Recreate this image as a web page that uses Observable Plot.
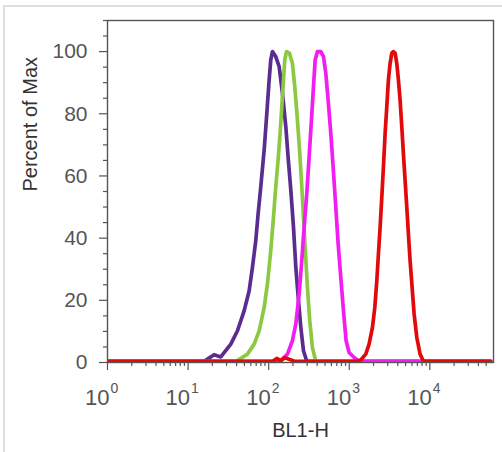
<!DOCTYPE html>
<html>
<head>
<meta charset="utf-8">
<script src="https://cdn.jsdelivr.net/npm/d3@7"></script>
<script src="https://cdn.jsdelivr.net/npm/@observablehq/plot@0.6"></script>
<style>
  html, body { margin: 0; padding: 0; background: #fff; }
  #wrap { position: relative; width: 502px; height: 452px; overflow: hidden; }
  #border { position: absolute; left: 3px; top: 5px; width: 600px; height: 600px;
            border-left: 2px solid #dedede; border-top: 2px solid #dedede; }
  #chart { position: absolute; left: 0; top: 0; }
</style>
</head>
<body>
<div id="wrap"><div id="border"></div><div id="chart"></div></div>
<script>
// Values: x as log10(BL1-H), y as percent of max
const purpleLogX = [0, 1.20, 1.241, 1.323, 1.406, 1.530, 1.613, 1.696, 1.758, 1.799, 1.840, 1.869, 1.902, 1.944, 1.977, 2.006, 2.026, 2.047, 2.088, 2.130, 2.171, 2.213, 2.241, 2.275, 2.308, 2.337, 2.370, 2.399, 2.432, 2.473, 4.755];
const purpleY    = [0.4, 0.4, 1.1, 2.5, 1.8, 5.9, 10.2, 16.7, 23.1, 30.6, 39.2, 47.8, 56.5, 68.3, 80.1, 90.9, 97.3, 100, 98.4, 95.2, 86.6, 75.8, 66.1, 55.4, 43.5, 30.6, 19.9, 11.3, 3.8, 0.4, 0.4];

const greenLogX = [0, 1.58, 1.613, 1.737, 1.820, 1.882, 1.944, 1.985, 2.026, 2.060, 2.088, 2.117, 2.142, 2.163, 2.184, 2.200, 2.221, 2.258, 2.295, 2.324, 2.357, 2.386, 2.411, 2.432, 2.457, 2.481, 2.510, 2.543, 2.585, 4.755];
const greenY    = [0.4, 0.4, 0.6, 2.7, 5.9, 10.2, 17.7, 25.3, 36.0, 46.8, 56.5, 65.1, 73.7, 82.3, 90.9, 97.3, 100, 99.5, 96.2, 88.7, 78.0, 67.2, 56.5, 46.8, 34.9, 24.2, 13.4, 4.8, 0.4, 0.4];

const magentaLogX = [0, 2.12, 2.151, 2.233, 2.295, 2.337, 2.378, 2.411, 2.440, 2.473, 2.502, 2.531, 2.556, 2.577, 2.605, 2.647, 2.680, 2.709, 2.738, 2.771, 2.800, 2.833, 2.862, 2.895, 2.928, 2.961, 2.998, 3.060, 3.122, 4.755];
const magentaY    = [0.4, 0.4, 0.6, 2.7, 7.0, 12.4, 22.0, 32.8, 43.5, 54.3, 66.1, 78.0, 88.7, 97.3, 100, 100, 98.4, 93.0, 84.4, 73.7, 62.9, 50.0, 38.2, 27.4, 16.7, 7.0, 3.2, 1.6, 0.4, 0.4];

const redLogX = [0, 2.05, 2.10, 2.15, 2.20, 2.27, 2.32, 3.10, 3.143, 3.205, 3.246, 3.288, 3.317, 3.342, 3.362, 3.383, 3.404, 3.424, 3.445, 3.466, 3.486, 3.507, 3.528, 3.548, 3.569, 3.590, 3.610, 3.631, 3.652, 3.672, 3.693, 3.714, 3.734, 3.755, 3.780, 3.805, 3.838, 3.879, 3.921, 4.755];
const redY    = [0.4, 0.4, 1.3, 0.6, 1.5, 0.9, 0.4, 0.4, 0.8, 2.7, 5.9, 11.3, 17.7, 26.3, 34.9, 43.5, 53.2, 62.9, 73.7, 82.3, 90.9, 96.2, 99.5, 100, 99.5, 96.2, 90.9, 84.4, 75.8, 67.2, 58.6, 50.0, 41.4, 32.8, 24.2, 15.6, 8.1, 2.7, 0.4, 0.4];

const xMajorTicks = [1, 10, 100, 1000, 10000];
const xExponents  = ["0", "1", "2", "3", "4"];
const xMinorTicks = [2,3,4,5,6,7,8,9, 20,30,40,50,60,70,80,90, 200,300,400,500,600,700,800,900, 2000,3000,4000,5000,6000,7000,8000,9000, 20000,30000,40000,50000];
const yMajorTicks = [0, 20, 40, 60, 80, 100];
const yMinorTicks = [5, 10, 15, 25, 30, 35, 45, 50, 55, 65, 70, 75, 85, 90, 95, 105, 110];

const xLabel = "BL1-H";
const yLabel = "Percent of Max";

const series = [
  {name: "purple",  logx: purpleLogX,  y: purpleY,  color: "#5b2c8f"},
  {name: "green",   logx: greenLogX,   y: greenY,   color: "#8cc840"},
  {name: "magenta", logx: magentaLogX, y: magentaY, color: "#f21df2"},
  {name: "red",     logx: redLogX,     y: redY,     color: "#e2090b"}
];
const toRows = s => s.logx.map((lx, i) => ({x: Math.pow(10, lx), y: s.y[i]}));

const majors = xMajorTicks.map((v, i) => ({v, e: xExponents[i]}));

const chart = Plot.plot({
  width: 502,
  height: 452,
  marginLeft: 107,
  marginRight: 9,
  marginTop: 20,
  marginBottom: 90,
  style: {fontFamily: "'Liberation Sans', Arial, sans-serif", background: "transparent", overflow: "visible"},
  x: {type: "log", domain: [1, Math.pow(10, 4.79)]},
  y: {domain: [0, 110]},
  marks: [
    ...series.map(s => Plot.line(toRows(s), {x: "x", y: "y", stroke: s.color, strokeWidth: 3.7, strokeLinejoin: "round", clip: true})),
    Plot.frame({stroke: "#555", strokeWidth: 1.4}),
    Plot.axisY({ticks: yMinorTicks, tickSize: 4, tickFormat: () => "", label: null, stroke: "#555", strokeWidth: 1.2}),
    Plot.axisY({ticks: yMajorTicks, tickSize: 8, tickPadding: 12, fontSize: 21, fill: "#555", stroke: "#555", strokeWidth: 1.2, label: null}),
    Plot.axisX({ticks: xMinorTicks, tickSize: 4, tickFormat: () => "", label: null, stroke: "#555", strokeWidth: 1.2}),
    Plot.axisX({ticks: xMajorTicks, tickSize: 8, tickFormat: () => "", label: null, stroke: "#555", strokeWidth: 1.2}),
    Plot.text(majors, {x: "v", frameAnchor: "bottom", text: () => "10", textAnchor: "end", lineAnchor: "middle", dx: 2, dy: 35, fontSize: 22, fill: "#555"}),
    Plot.text(majors, {x: "v", frameAnchor: "bottom", text: "e", textAnchor: "start", lineAnchor: "middle", dx: 3, dy: 26, fontSize: 14, fill: "#555"}),
    Plot.text([xLabel], {frameAnchor: "bottom", text: d => d, lineAnchor: "middle", dy: 68, fontSize: 20, fill: "#333"}),
    Plot.text([yLabel], {frameAnchor: "left", text: d => d, rotate: -90, lineAnchor: "middle", dx: -77, fontSize: 20, fill: "#333"})
  ]
});
document.getElementById("chart").appendChild(chart);
</script>
</body>
</html>
